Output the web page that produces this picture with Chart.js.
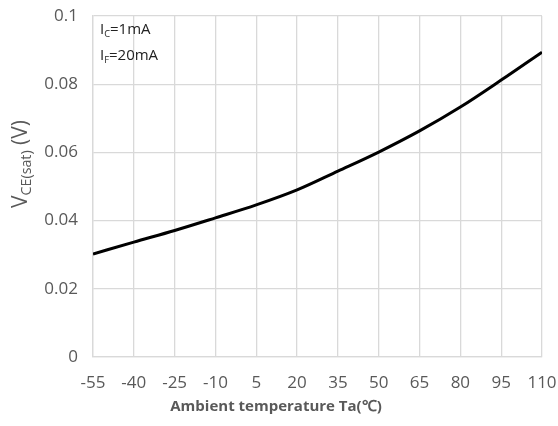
<!DOCTYPE html>
<html>
<head>
<meta charset="utf-8">
<script src="https://cdn.jsdelivr.net/npm/chart.js@4/dist/chart.umd.min.js"></script>
<style>
  html, body { margin: 0; padding: 0; background: #fff; }
  #wrap { width: 558px; height: 426px; }
</style>
</head>
<body>
<div id="wrap"><canvas id="chart" width="558" height="426"></canvas></div>
<script>
const temps = [-55, -40, -25, -10, 5, 20, 35, 50, 65, 80, 95, 110];
const vceSat = [0.0302, 0.0337, 0.0371, 0.0408, 0.0446, 0.0490, 0.0545, 0.0601, 0.0663, 0.0733, 0.0812, 0.0894];
const xTitle = 'Ambient temperature Ta(\u2103)';
const yTitle = [['V', false], ['CE(sat)', true], [' (V)', false]];
const notes = [
    [['I', false], ['C', true], ['=1mA', false]],
    [['I', false], ['F', true], ['=20mA', false]]
];

const gray = '#595959';
const gridColor = '#d9d9d9';
const font = '"Open Sans", "Liberation Sans", sans-serif';

// draws text where some parts are subscripts, starting at x (left), baseline y
function drawParts(ctx, parts, x, y, size, color, subScale) {
    let cx = x;
    ctx.fillStyle = color;
    ctx.textBaseline = 'alphabetic';
    ctx.textAlign = 'left';
    for (const [txt, sub] of parts) {
        const s = sub ? size * subScale : size;
        ctx.font = s + 'px ' + font;
        ctx.fillText(txt, cx, sub ? y + size * 0.2 : y);
        cx += ctx.measureText(txt).width;
    }
    return cx - x;
}

function partsWidth(ctx, parts, size, subScale) {
    let w = 0;
    for (const [txt, sub] of parts) {
        ctx.font = (sub ? size * subScale : size) + 'px ' + font;
        w += ctx.measureText(txt).width;
    }
    return w;
}

const labels = {
    id: 'labels',
    afterDraw(chart) {
        const ctx = chart.ctx;
        const a = chart.chartArea;
        ctx.save();
        // notes in the top-left corner of the plot
        drawParts(ctx, notes[0], a.left + 7, a.top + 18, 15, '#222', 0.62);
        drawParts(ctx, notes[1], a.left + 7, a.top + 44, 15, '#222', 0.62);
        // x title
        ctx.font = 'bold 15px ' + font;
        ctx.fillStyle = gray;
        ctx.textAlign = 'center';
        ctx.textBaseline = 'middle';
        ctx.fillText(xTitle, 276, 407);
        // y title, rotated
        const size = 21;
        const w = partsWidth(ctx, yTitle, size, 0.68);
        ctx.translate(27, 164);
        ctx.rotate(-Math.PI / 2);
        drawParts(ctx, yTitle, -w / 2, 0, size, gray, 0.68);
        ctx.restore();
    }
};

new Chart(document.getElementById('chart'), {
    type: 'line',
    data: {
        datasets: [{
            data: temps.map((t, i) => ({ x: t, y: vceSat[i] })),
            borderColor: '#000',
            borderWidth: 3,
            pointRadius: 0,
            tension: 0.4,
            cubicInterpolationMode: 'monotone'
        }]
    },
    options: {
        responsive: false,
        animation: false,
        layout: { padding: { top: 16, right: 16, left: 0, bottom: 0 } },
        plugins: { legend: { display: false }, tooltip: { enabled: false } },
        scales: {
            x: {
                type: 'linear',
                min: -55,
                max: 110,
                afterFit: s => { s.height = 69; s.paddingLeft = 0; s.paddingRight = 0; },
                afterBuildTicks: s => { s.ticks = temps.map(v => ({ value: v })); },
                grid: { color: gridColor, lineWidth: 1.3, drawTicks: false },
                border: { color: gridColor, width: 1.3 },
                ticks: { color: gray, font: { family: font, size: 17 }, padding: 16, maxRotation: 0, autoSkip: false }
            },
            y: {
                min: 0,
                max: 0.1,
                afterFit: s => { s.width = 93; s.paddingTop = 0; s.paddingBottom = 0; },
                grid: { color: gridColor, lineWidth: 1.3, drawTicks: false },
                border: { color: gridColor, width: 1.3 },
                ticks: {
                    stepSize: 0.02,
                    color: gray,
                    font: { family: font, size: 17 },
                    padding: 15,
                    callback: v => String(Math.round(v * 100) / 100)
                }
            }
        }
    },
    plugins: [labels]
});
</script>
</body>
</html>
